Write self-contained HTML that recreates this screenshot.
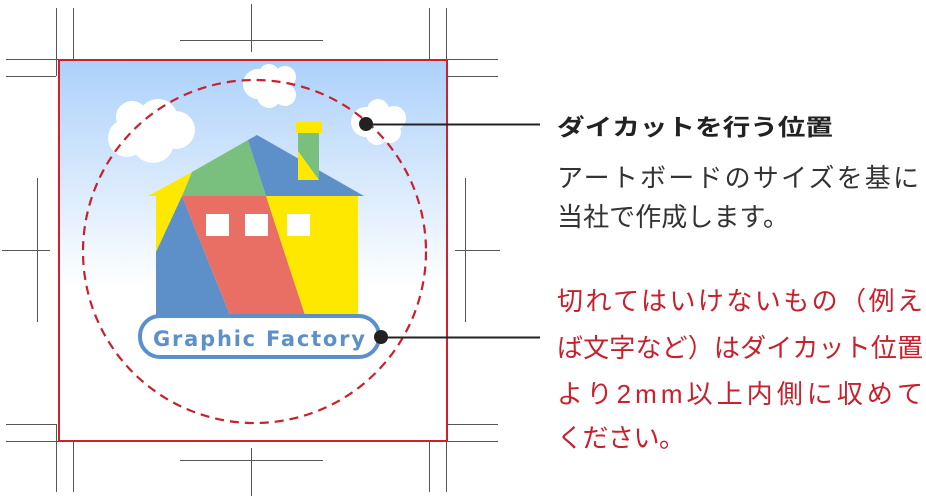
<!DOCTYPE html>
<html><head><meta charset="utf-8"><style>
html,body{margin:0;padding:0;background:#fff;width:926px;height:500px;overflow:hidden}
svg{display:block}
</style></head><body>
<svg width="926" height="500" viewBox="0 0 926 500" xmlns="http://www.w3.org/2000/svg">
<defs>
<linearGradient id="sky" x1="0" y1="0" x2="0" y2="1">
<stop offset="0" stop-color="#acd1fa"/><stop offset="0.6" stop-color="#ffffff"/><stop offset="1" stop-color="#ffffff"/>
</linearGradient>
</defs>
<g stroke="#555" stroke-width="1" fill="none">
<path d="M56.5 8V76M73.5 8V59M6 59.5H73M6 76.5H56"/>
<path d="M429.5 8V59M446.5 8V76M430 59.5H498M448 76.5H498"/>
<path d="M56.5 424V492M73.5 441V492M6 424.5H56M6 441.5H73"/>
<path d="M446.5 424V492M429.5 441V492M448 424.5H498M430 441.5H498"/>
<path d="M251.5 4V52M180 40.5H323M251.5 448V496M180 460.5H323"/>
<path d="M37.5 178V322M2 250.5H50M465.5 178V322M455 250.5H500"/>
</g>
<rect x="59" y="60" width="388" height="381" fill="url(#sky)" stroke="#d0202b" stroke-width="2"/>
<g fill="#fff">
<circle cx="132" cy="117" r="16"/><circle cx="158" cy="119" r="20"/><circle cx="176" cy="130" r="19"/><circle cx="127" cy="138" r="19"/><circle cx="153" cy="142" r="21"/><circle cx="145" cy="128" r="20"/>
<circle cx="258" cy="84" r="15"/><circle cx="269" cy="74" r="10"/><circle cx="285" cy="77" r="11"/><circle cx="285" cy="95" r="11"/><circle cx="269" cy="96" r="12"/><circle cx="273" cy="86" r="13"/>
<circle cx="366" cy="122" r="15"/><circle cx="378" cy="110" r="11"/><circle cx="394" cy="118" r="12"/><circle cx="390" cy="132" r="11"/><circle cx="377" cy="134" r="11"/><circle cx="380" cy="122" r="12"/>
</g>
<polygon points="148,196 192,172 182,196" fill="#ffe800"/>
<polygon points="192,172 248,140 266,196 182,196" fill="#79c07f"/>
<polygon points="248,140 257,135 364,196 266,196" fill="#5d90c9"/>
<rect x="298" y="132" width="21" height="48" fill="#79c07f"/>
<polygon points="298,151 319,180 298,180" fill="#ffe800"/>
<rect x="296" y="122" width="26" height="11" fill="#ffe800"/>
<polygon points="156,196 182,196 156,252" fill="#ffe800"/>
<polygon points="182,196 230,315 156,315 156,252" fill="#5d90c9"/>
<polygon points="182,196 266,196 305,315 230,315" fill="#e96e64"/>
<polygon points="266,196 358,196 358,315 305,315" fill="#ffe800"/>
<g fill="#fff"><rect x="206" y="214" width="23" height="22"/><rect x="245" y="214" width="23" height="22"/><rect x="287" y="214" width="23" height="22"/></g>
<rect x="140" y="316" width="239" height="41" rx="20" fill="#fff" stroke="#5d90c9" stroke-width="4"/>
<text x="259" y="346" text-anchor="middle" font-family="'DejaVu Sans','Liberation Sans',sans-serif" font-weight="bold" font-size="21" fill="#5d90c9" textLength="212" lengthAdjust="spacing">Graphic Factory</text>
<circle cx="254.5" cy="251.5" r="171.5" fill="none" stroke="#c8202c" stroke-width="2.2" stroke-dasharray="9,6"/>
<line x1="366" y1="124.5" x2="540" y2="124.5" stroke="#222" stroke-width="2"/>
<circle cx="366" cy="124" r="7" fill="#222"/>
<line x1="381" y1="337.5" x2="540" y2="337.5" stroke="#222" stroke-width="2"/>
<circle cx="381" cy="337" r="7" fill="#222"/>
<g font-family="'Liberation Sans','Noto Sans CJK JP',sans-serif">
<text x="557" y="135" font-size="23" font-weight="bold" fill="#222" textLength="276" lengthAdjust="spacingAndGlyphs">ダイカットを行う位置</text>
<text x="557" y="187" font-size="26" fill="#333" textLength="362" lengthAdjust="spacing">アートボードのサイズを基に</text>
<text x="557" y="226" font-size="26" fill="#333" textLength="232" lengthAdjust="spacing">当社で作成します。</text>
<g fill="#c8202c" font-size="26">
<text x="557" y="310" textLength="366" lengthAdjust="spacing">切れてはいけないもの（例え</text>
<text x="557" y="357" textLength="366" lengthAdjust="spacing">ば文字など）はダイカット位置</text>
<text x="557" y="403" textLength="366" lengthAdjust="spacing">より2mm以上内側に収めて</text>
<text x="557" y="447" textLength="128" lengthAdjust="spacing">ください。</text>
</g>
</g>
</svg>
</body></html>
